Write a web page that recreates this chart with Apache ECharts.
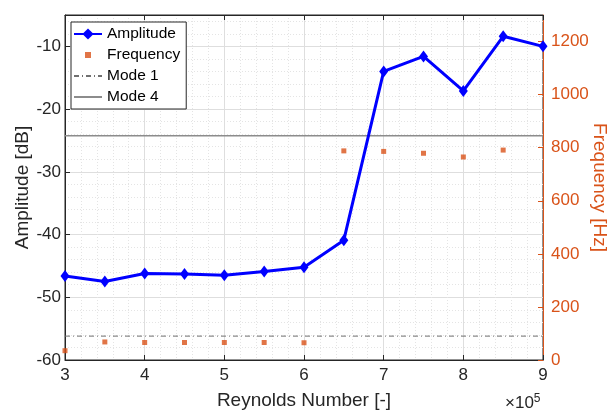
<!DOCTYPE html>
<html>
<head>
<meta charset="utf-8">
<script src="https://cdn.jsdelivr.net/npm/echarts@6/dist/echarts.min.js"></script>
<style>
  html, body { margin: 0; padding: 0; background: #fff; }
  #chart { width: 611px; height: 412px; }
</style>
</head>
<body>
<div id="chart"></div>
<script>
// Reynolds numbers (raw values, axis shows them in units of 1e5)
const reynolds = [300000, 350000, 400000, 450000, 500000, 550000, 600000, 650000, 700000, 750000, 800000, 850000, 900000]
const amplitude = [-46.6, -47.5, -46.2, -46.3, -46.5, -45.9, -45.2, -40.9, -14.0, -11.6, -17.1, -8.4, -10.0]
const freqRe = [300000, 350000, 400000, 450000, 500000, 550000, 600000, 650000, 700000, 750000, 800000, 850000]
const frequency = [35, 68, 66, 66, 66, 66, 65, 788, 786, 779, 765, 791]
const modeNames = ['Mode 1', 'Mode 4']
const modeFreq = [90, 845]
const xRange = [300000, 900000]

const ampData = reynolds.map((r, i) => [r, amplitude[i]])
const freqData = freqRe.map((r, i) => [r, frequency[i]])
const modeData = modeFreq.map(f => xRange.map(x => [x, f]))

const FONT = 'Liberation Sans, Arial, Helvetica, sans-serif'
const INK = '#262626'
const ORANGE = '#D95319'

let chart = echarts.init(document.getElementById('chart'))

let option = {
    animation: false,
    textStyle: { fontFamily: FONT },
    grid: {
        left: 65, right: 68, top: 15, bottom: 52,
        outerBoundsMode: 'none',
        containLabel: false,
        show: true, borderColor: INK, borderWidth: 1
    },
    legend: {
        orient: 'vertical',
        left: 71, top: 22,
        padding: [3, 6, 3, 2],
        itemGap: 3,
        itemWidth: 28,
        itemHeight: 14,
        backgroundColor: '#fff',
        borderColor: INK,
        borderWidth: 1,
        borderRadius: 0,
        textStyle: { fontFamily: FONT, fontSize: 15.5, color: '#000', lineHeight: 18 },
        data: [
            { name: 'Amplitude' },
            { name: 'Frequency', icon: 'path://M0,0M28,14M11,4h6v6h-6z' },
            { name: modeNames[0], itemStyle: { opacity: 0 } },
            { name: modeNames[1], itemStyle: { opacity: 0 } }
        ]
    },
    xAxis: [
        {
            type: 'value',
            min: xRange[0], max: xRange[1], interval: 100000,
            name: 'Reynolds Number [-]',
            nameLocation: 'middle',
            nameGap: 31,
            nameMoveOverlap: false,
            nameTextStyle: { fontSize: 19, color: INK, fontFamily: FONT },
            axisLine: { lineStyle: { color: INK, width: 1 } },
            axisTick: { inside: true, length: 5, lineStyle: { color: INK } },
            axisLabel: { fontSize: 17, color: INK, margin: 7, fontFamily: FONT,
                formatter: v => String(Math.round(v / 100000)) },
            splitLine: { show: true, lineStyle: { color: '#dedede', width: 1 } },
            minorTick: { show: false, splitNumber: 5 },
            minorSplitLine: { show: true, lineStyle: { color: '#e4e4e4', type: [1, 2], width: 1 } }
        },
        {
            type: 'value', position: 'top',
            min: xRange[0], max: xRange[1], interval: 100000,
            axisLine: { show: true, lineStyle: { color: INK } },
            axisTick: { show: true, inside: true, length: 5, lineStyle: { color: INK } },
            axisLabel: { show: false },
            splitLine: { show: false }
        }
    ],
    yAxis: [
        {
            type: 'value',
            min: -60, max: -5, interval: 10,
            name: 'Amplitude [dB]',
            nameLocation: 'middle',
            nameGap: 33,
            nameMoveOverlap: false,
            nameTextStyle: { fontSize: 19, color: INK, fontFamily: FONT },
            axisLine: { show: true, lineStyle: { color: INK } },
            axisTick: { show: true, inside: true, length: 5, lineStyle: { color: INK } },
            axisLabel: { fontSize: 17, color: INK, margin: 4, showMaxLabel: false, fontFamily: FONT },
            splitLine: { show: true, lineStyle: { color: '#dedede', width: 1 } },
            minorTick: { show: false, splitNumber: 5 },
            minorSplitLine: { show: true, lineStyle: { color: '#e4e4e4', type: [1, 2], width: 1 } }
        },
        {
            type: 'value',
            min: 0, max: 1300, interval: 200,
            position: 'right',
            name: 'Frequency [Hz]',
            nameLocation: 'middle',
            nameGap: 47,
            nameMoveOverlap: false,
            nameRotate: -90,
            nameTextStyle: { fontSize: 19, color: ORANGE, fontFamily: FONT },
            axisLine: { show: true, lineStyle: { color: ORANGE } },
            axisTick: { show: true, inside: true, length: 5, lineStyle: { color: ORANGE } },
            axisLabel: { fontSize: 17, color: ORANGE, margin: 8, showMaxLabel: false, fontFamily: FONT,
                formatter: v => String(v) },
            splitLine: { show: false }
        }
    ],
    graphic: [
        {
            type: 'text',
            left: 505, top: 393,
            style: {
                text: '×10{s|5}',
                fontFamily: FONT, fontSize: 17, fill: INK,
                rich: { s: { fontSize: 12, verticalAlign: 'top', padding: [0, 0, 9, 0], fill: INK } }
            }
        }
    ],
    series: [
        {
            name: modeNames[0],
            type: 'line',
            yAxisIndex: 1,
            data: modeData[0],
            symbol: 'none',
            lineStyle: { color: '#707070', width: 1, type: [5, 3, 1, 3] },
            itemStyle: { color: '#707070' },
            z: 3
        },
        {
            name: modeNames[1],
            type: 'line',
            yAxisIndex: 1,
            data: modeData[1],
            symbol: 'none',
            lineStyle: { color: '#8c8c8c', width: 1.5 },
            itemStyle: { color: '#8c8c8c' },
            z: 3
        },
        {
            name: 'Frequency',
            type: 'scatter',
            yAxisIndex: 1,
            data: freqData,
            symbol: 'rect',
            symbolSize: 5,
            itemStyle: { color: ORANGE },
            z: 4
        },
        {
            name: 'Amplitude',
            type: 'line',
            yAxisIndex: 0,
            data: ampData,
            symbol: 'diamond',
            symbolSize: [9, 12],
            lineStyle: { color: '#0000FF', width: 3 },
            itemStyle: { color: '#0000FF' },
            z: 5
        }
    ]
}

chart.setOption(option)
</script>
</body>
</html>
